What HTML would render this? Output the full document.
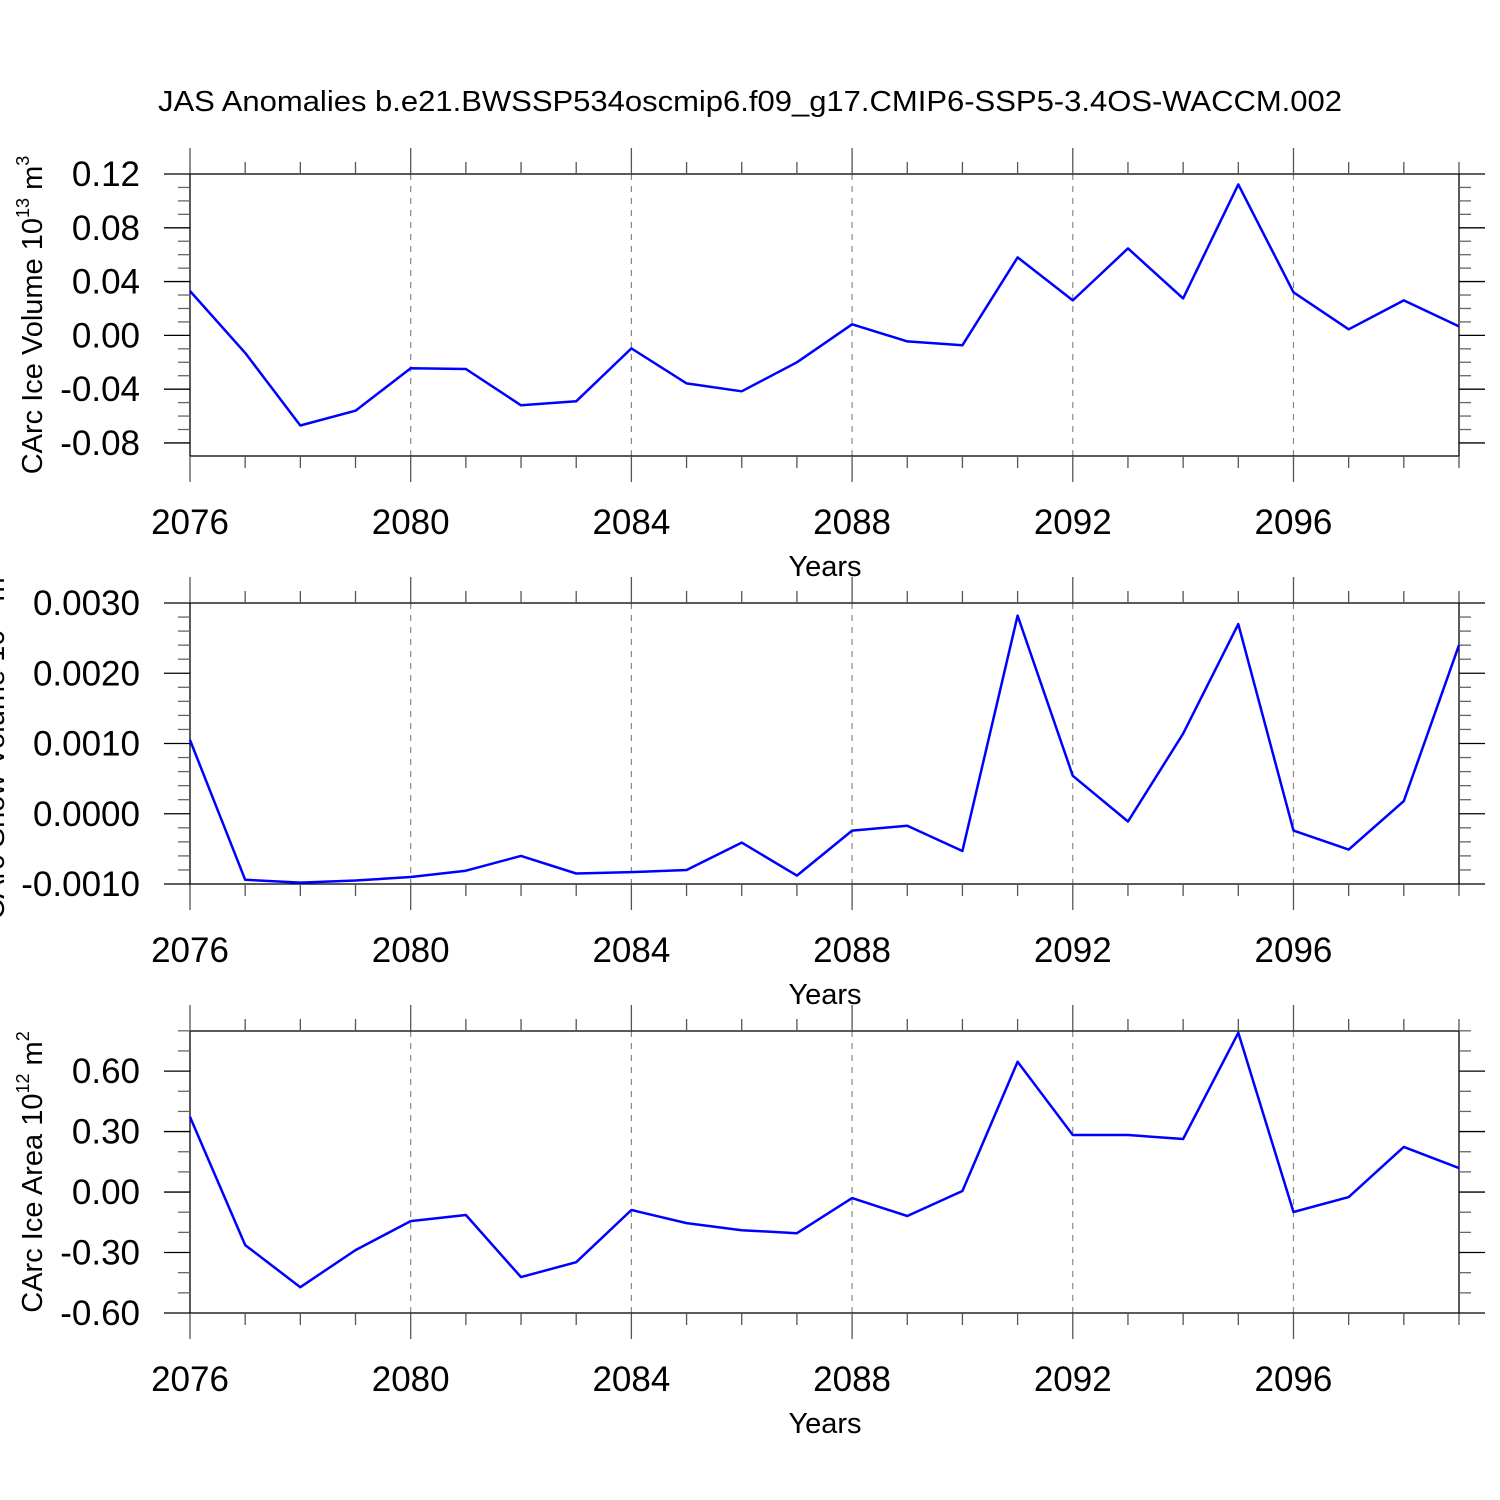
<!DOCTYPE html>
<html><head><meta charset="utf-8"><style>
html,body{margin:0;padding:0;background:#fff;}
svg{display:block;font-family:"Liberation Sans",sans-serif;}
</style></head><body>
<svg id="chart" width="1500" height="1500" xmlns="http://www.w3.org/2000/svg">
<rect width="1500" height="1500" fill="#fff"/>
<text x="750" y="111" font-size="29" text-anchor="middle" textLength="1184" lengthAdjust="spacingAndGlyphs">JAS Anomalies b.e21.BWSSP534oscmip6.f09_g17.CMIP6-SSP5-3.4OS-WACCM.002</text>
</svg>
<script>
const years = [2076,2077,2078,2079,2080,2081,2082,2083,2084,2085,2086,2087,2088,2089,2090,2091,2092,2093,2094,2095,2096,2097,2098,2099];
const xTickLabels = ["2076","2080","2084","2088","2092","2096"];
const iceVolume = [0.033,-0.013,-0.067,-0.056,-0.0245,-0.025,-0.052,-0.049,-0.0097,-0.0357,-0.0416,-0.020,0.0082,-0.0045,-0.0074,0.058,0.026,0.0647,0.0275,0.1123,0.032,0.0045,0.026,0.0067];
const snowVolume = [0.00105,-0.00094,-0.00098,-0.00095,-0.0009,-0.00081,-0.0006,-0.00085,-0.00083,-0.0008,-0.00041,-0.00088,-0.00024,-0.00017,-0.00053,0.00282,0.00054,-0.00011,0.00114,0.0027,-0.00024,-0.00051,0.00018,0.0024];
const iceArea = [0.373,-0.263,-0.472,-0.288,-0.144,-0.114,-0.422,-0.348,-0.089,-0.154,-0.189,-0.204,-0.03,-0.119,0.005,0.646,0.283,0.283,0.263,0.79,-0.099,-0.025,0.224,0.119];
const volTicks = ["0.12","0.08","0.04","0.00","-0.04","-0.08"];
const snowTicks = ["0.0030","0.0020","0.0010","0.0000","-0.0010"];
const areaTicks = ["0.60","0.30","0.00","-0.30","-0.60"];

const NS="http://www.w3.org/2000/svg";
const svg=document.getElementById('chart');
function mk(tag,attrs,parent){const e=document.createElementNS(NS,tag);for(const k in attrs)e.setAttribute(k,attrs[k]);(parent||svg).appendChild(e);return e;}
const X0=190,X1=1459;
function xs(yr){return X0+(yr-2076)*(X1-X0)/23;}

function panel(o){
  const g=mk('g',{});
  
  
  const ys=v=>o.top+(o.vmax-v)*(o.bot-o.top)/(o.vmax-o.vmin);
  for(let yr=2080;yr<=2096;yr+=4){
    const l=mk('line',{x1:xs(yr),x2:xs(yr),y1:o.top,y2:o.bot,stroke:'#888','stroke-width':1.2,'stroke-dasharray':'6,6'},g);
    
    
  }
  const fr=mk('rect',{x:X0,y:o.top,width:X1-X0,height:o.bot-o.top,fill:'none',stroke:'#000','stroke-width':1.3},g);
  
  
  for(let yr=2076;yr<=2099;yr++){
    const maj=(yr-2076)%4===0, len=maj?26:12, x=xs(yr);
    mk('line',{x1:x,x2:x,y1:o.top-len,y2:o.top,stroke:'#555','stroke-width':1.3},g);
    mk('line',{x1:x,x2:x,y1:o.bot,y2:o.bot+len,stroke:'#555','stroke-width':1.3},g);
  }
  xTickLabels.forEach(t=>{
    const tx=mk('text',{x:xs(+t),y:o.bot+78,'font-size':35,'text-anchor':'middle'},g);
    tx.textContent=t;
    
    
  });
  const xt=mk('text',{x:825,y:o.bot+120,'font-size':29,'text-anchor':'middle'},g);
  xt.textContent='Years';
  
  
  const steps=Math.round((o.tmax-o.tmin)/o.minor);
  for(let i=0;i<=steps;i++){
    const v=o.tmin+i*o.minor, y=ys(v);
    if(y<o.top-0.5||y>o.bot+0.5) continue;
    const maj=Math.abs(Math.round(v/o.major)*o.major-v)<o.minor*0.01, len=maj?26:12;
    mk('line',{x1:X0-len,x2:X0,y1:y,y2:y,stroke:maj?'#000':'#666','stroke-width':1.3},g);
    mk('line',{x1:X1,x2:X1+len,y1:y,y2:y,stroke:maj?'#000':'#666','stroke-width':1.3},g);
  }
  o.labels.forEach(t=>{
    const tx=mk('text',{x:140,y:ys(+t)+12,'font-size':35,'text-anchor':'end'},g);
    tx.textContent=t;
    
    
  });
  const cy=(o.top+o.bot)/2;
  const yt=mk('text',{x:o.ylx,y:cy,'font-size':29,'text-anchor':'middle',transform:`rotate(-90 ${o.ylx} ${cy})`},g);
  yt.innerHTML=o.ylabel+' 10<tspan font-size="18" dy="-13">'+o.exp+'</tspan><tspan dy="13"> m</tspan><tspan font-size="18" dy="-13">'+o.unitExp+'</tspan>';
  
  
  const pts=o.data.map((v,i)=>xs(years[i]).toFixed(1)+','+ys(v).toFixed(1)).join(' ');
  const pl=mk('polyline',{points:pts,fill:'none',stroke:'#0000ff','stroke-width':2.5,'stroke-linejoin':'round'},g);
  
  
}
panel({name:'ice-volume-panel',top:174,bot:456,vmax:0.12,vmin:-0.0897,tmin:-0.08,tmax:0.12,major:0.04,minor:0.01,labels:volTicks,data:iceVolume,ylabel:'CArc Ice Volume',exp:'13',unitExp:'3',ylx:42});
panel({name:'snow-volume-panel',top:603,bot:884,vmax:0.003,vmin:-0.001,tmin:-0.001,tmax:0.003,major:0.001,minor:0.0002,labels:snowTicks,data:snowVolume,ylabel:'CArc Snow Volume',exp:'13',unitExp:'3',ylx:4});
panel({name:'ice-area-panel',top:1031,bot:1313,vmax:0.799,vmin:-0.6,tmin:-0.6,tmax:0.8,major:0.3,minor:0.1,labels:areaTicks,data:iceArea,ylabel:'CArc Ice Area',exp:'12',unitExp:'2',ylx:42});
</script>
</body></html>
